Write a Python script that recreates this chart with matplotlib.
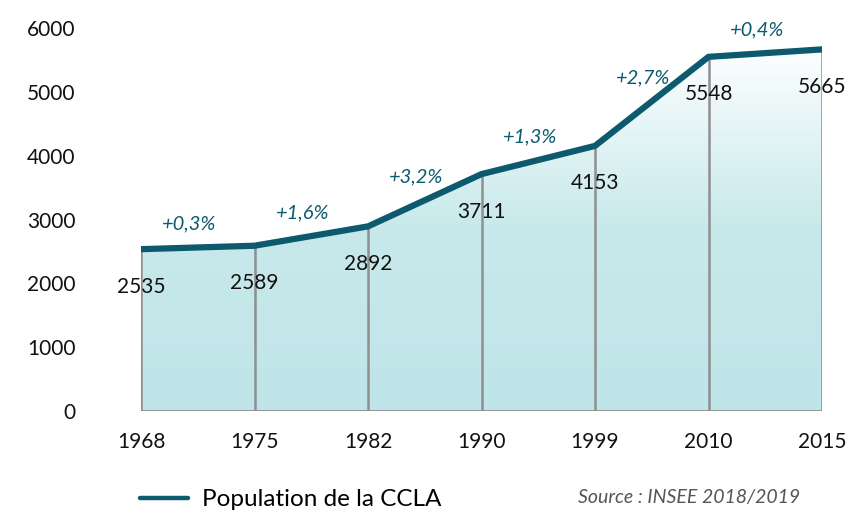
import numpy as np
import matplotlib.pyplot as plt
from matplotlib.colors import LinearSegmentedColormap
from matplotlib.lines import Line2D

# Données
annees = ['1968', '1975', '1982', '1990', '1999', '2010', '2015']
population = [2535, 2589, 2892, 3711, 4153, 5548, 5665]
variations = ['+0,3%', '+1,6%', '+3,2%', '+1,3%', '+2,7%', '+0,4%']

bleu = '#0d5a6e'
gris = '#8f8f8f'
plt.rcParams['font.family'] = ['Lato', 'DejaVu Sans']

fig = plt.figure(figsize=(8.51, 5.14), dpi=100)
ax = fig.add_axes([141 / 851, 103 / 514, 681 / 851, 383 / 514])

x = np.arange(len(annees))
ax.set_xlim(0, len(annees) - 1)
ax.set_ylim(0, 6000)

# Remplissage en dégradé sous la courbe
poly = ax.fill_between(x, 0, population, color='none', lw=0)
cmap = LinearSegmentedColormap.from_list('deg', ['#bfe5e8', '#c8e9eb', '#ffffff'])
grad = np.linspace(0, 1, 256).reshape(-1, 1)
img = ax.imshow(grad, extent=[0, len(annees) - 1, 0, max(population) * 1.02],
                origin='lower', aspect='auto', cmap=cmap, zorder=1)
img.set_clip_path(poly.get_paths()[0], transform=ax.transData)

# Traits verticaux et base
ax.vlines(x, 0, population, color=gris, lw=1.8, zorder=2)
ax.plot([x[0], x[-1]], [0, 0], color=gris, lw=2, zorder=2)

ax.plot(x, population, color=bleu, lw=4.5, solid_capstyle='round',
        solid_joinstyle='round', zorder=4)

for xi, v in zip(x, population):
    ax.annotate(str(v), (xi, v), xytext=(0, -27), textcoords='offset points',
                ha='center', va='center', fontsize=15, color='#111111', zorder=5)

for i, txt in enumerate(variations):
    xm = (x[i] + x[i + 1]) / 2
    ym = (population[i] + population[i + 1]) / 2
    ax.annotate(txt, (xm, ym), xytext=(-6, 17), textcoords='offset points',
                ha='center', va='center', fontsize=14.5, style='italic',
                color=bleu, zorder=5)

ax.set_xticks(x)
ax.set_xticklabels(annees, fontsize=15)
ax.set_yticks(range(0, 6001, 1000))
ax.set_yticklabels([str(v) for v in range(0, 6001, 1000)], fontsize=15)
ax.tick_params(axis='both', length=0, colors='#111111')
ax.tick_params(axis='x', pad=15)
ax.tick_params(axis='y', pad=47)
for s in ax.spines.values():
    s.set_visible(False)

poignee = Line2D([], [], color=bleu, lw=3.2, solid_capstyle='round')
fig.legend([poignee], ['Population de la CCLA'], loc='lower left',
           bbox_to_anchor=(118 / 851, -0.035), frameon=False,
           fontsize=17.5, handlelength=2.0, handletextpad=0.55)
fig.text(800 / 851, 17 / 514, 'Source : INSEE 2018/2019', ha='right', va='center',
         fontsize=14, style='italic', color='#555555')

plt.savefig('out.png', dpi=100)
